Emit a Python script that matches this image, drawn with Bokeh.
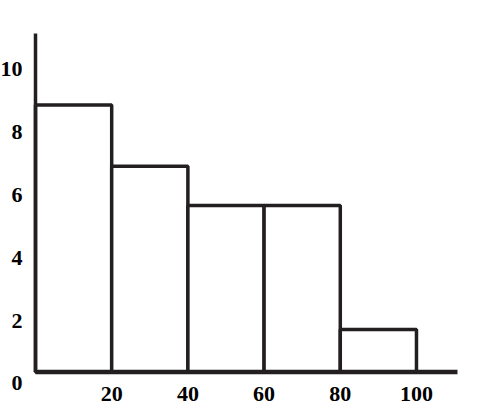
from bokeh.plotting import figure
from bokeh.models import Range1d, ColumnDataSource
from bokeh.core.properties import value
from bokeh.embed import file_html
from bokeh.resources import INLINE

# Data (histogram bins and frequencies)
bin_left = [0, 20, 40, 60, 80]
bin_right = [20, 40, 60, 80, 100]
freq = [8.5, 6.55, 5.3, 5.3, 1.35]

x_ticks = [20, 40, 60, 80, 100]
x_labels = ["20", "40", "60", "80", "100"]
y_ticks = [0, 2, 4, 6, 8, 10]
y_labels = ["0", "2", "4", "6", "8", "10"]

INK = "#231f20"
FONT = "Liberation Serif"
FSIZE = "22px"

x_start, x_end = -9.186, 119.69
y_start, y_end = -1.131, 11.831
x_axis_end = 110.76
y_axis_top = 10.78

p = figure(width=491, height=407, output_backend="svg", toolbar_location=None,
           x_range=Range1d(x_start, x_end), y_range=Range1d(y_start, y_end),
           x_axis_location=None, y_axis_location=None,
           min_border=0)

p.outline_line_color = None
p.background_fill_color = "white"
p.border_fill_color = "white"
p.xgrid.visible = False
p.ygrid.visible = False

# bars
p.quad(left=bin_left, right=bin_right, bottom=0, top=freq,
       fill_color="white", line_color=INK, line_width=3.5)

# axis lines
p.segment(x0=[0], y0=[0], x1=[0], y1=[y_axis_top], line_color=INK, line_width=3.5)
p.segment(x0=[0], y0=[0], x1=[x_axis_end], y1=[0], line_color=INK, line_width=4.5)

# y tick labels
ysrc = ColumnDataSource(dict(x=[0] * len(y_ticks), y=y_ticks, t=y_labels))
p.text(x="x", y="y", text="t", source=ysrc, x_offset=-13, y_offset=11.5,
       text_align="right", text_baseline="middle",
       text_font=value(FONT), text_font_style="bold", text_font_size=FSIZE,
       text_color="black")

# x tick labels
xsrc = ColumnDataSource(dict(x=x_ticks, y=[0] * len(x_ticks), t=x_labels))
p.text(x="x", y="y", text="t", source=xsrc, x_offset=0, y_offset=22,
       text_align="center", text_baseline="middle",
       text_font=value(FONT), text_font_style="bold", text_font_size=FSIZE,
       text_color="black")

open("out.html", "w").write(file_html(p, INLINE))
